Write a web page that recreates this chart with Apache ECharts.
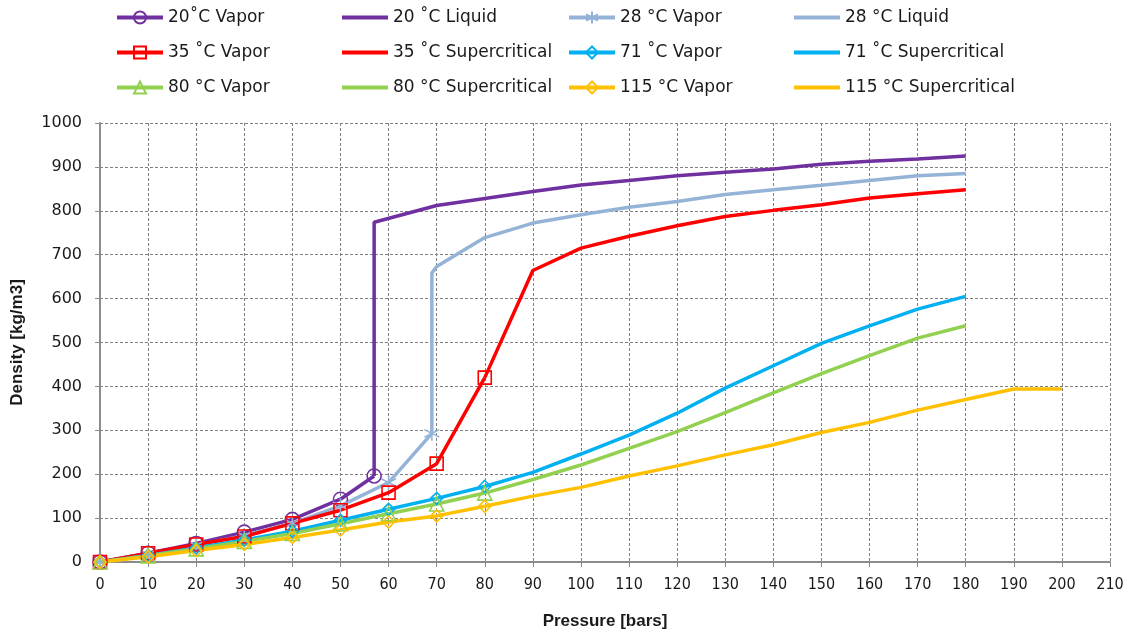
<!DOCTYPE html>
<html>
<head>
<meta charset="utf-8">
<script src="https://cdn.jsdelivr.net/npm/echarts@6/dist/echarts.min.js"></script>
<style>
html,body{margin:0;padding:0;background:#fff;}
#chart{width:1129px;height:629px;}
</style>
</head>
<body>
<div id="chart"></div>
<script>
// ---- Data (pressure in bars, density in kg/m3) ----
const xTicks = [0,10,20,30,40,50,60,70,80,90,100,110,120,130,140,150,160,170,180,190,200,210];
const yTicks = [0,100,200,300,400,500,600,700,800,900,1000];

const pVap20 = [0,10,20,30,40,50,57];
const dVap20 = [0,20,42,68,97,143,196];
const pLiq20 = [57,57,70,80,90,100,110,120,130,140,150,160,170,180];
const dLiq20 = [196,774,812,828,844,859,869,880,888,895,906,913,918,925];

const pVap28 = [0,10,20,30,40,50,60,69];
const dVap28 = [0,18,38,60,88,128,181,293];
const pLiq28 = [69,69,70,80,90,100,110,120,130,140,150,160,170,180];
const dLiq28 = [293,658,673,739,772,791,808,821,837,848,858,869,880,885];

const pVap35 = [0,10,20,30,40,50,60,70,80];
const dVap35 = [0,20,40,58,88,118,158,224,420];
const pSc35 = [80,90,100,110,120,130,140,150,160,170,180];
const dSc35 = [420,664,715,742,766,787,801,814,829,839,848];

const pVap71 = [0,10,20,30,40,50,60,70,80];
const dVap71 = [0,15,32,50,70,95,120,145,172];
const pSc71 = [80,90,100,110,120,130,140,150,160,170,180];
const dSc71 = [172,204,246,289,339,396,447,498,538,576,605];

const pVap80 = [0,10,20,30,40,50,60,70,80];
const dVap80 = [0,14,30,47,65,87,110,132,157];
const pSc80 = [80,90,100,110,120,130,140,150,160,170,180];
const dSc80 = [157,188,221,259,297,340,385,429,470,510,538];

const pVap115 = [0,10,20,30,40,50,60,70,80];
const dVap115 = [0,12,26,40,56,73,91,105,127];
const pSc115 = [80,90,100,110,120,130,140,150,160,170,180,190,200];
const dSc115 = [127,150,170,196,219,244,267,295,318,346,370,394,394];

const names = {
  v20:'20˚C Vapor', l20:'20 ˚C Liquid',
  v28:'28 °C Vapor', l28:'28 °C Liquid',
  v35:'35 ˚C Vapor', s35:'35 ˚C Supercritical',
  v71:'71 ˚C Vapor', s71:'71 ˚C Supercritical',
  v80:'80 °C Vapor', s80:'80 °C Supercritical',
  v115:'115 °C Vapor', s115:'115 °C Supercritical'
};

const C = {p:'#7030A0', lb:'#95B3D7', r:'#FF0000', c:'#00B0F0', g:'#92D050', o:'#FFC000'};
const starPath = 'path://M5,0 L5,10 M0.7,2.5 L9.3,7.5 M0.7,7.5 L9.3,2.5';

function zip(a,b){ return a.map((x,i)=>[x,b[i]]); }
function mk(name, px, dy, color, symbol, size){
  const hasSym = !!symbol;
  return {
    name, type:'line', data: zip(px,dy),
    lineStyle:{color, width:3.5},
    itemStyle:{
      color: (symbol === starPath) ? color : 'rgba(255,255,255,0)',
      borderColor:color, borderWidth:1.6
    },
    symbol: hasSym ? symbol : 'none',
    symbolSize: size || 0,
    showSymbol: hasSym,
    animation:false
  };
}

const series = [
  mk(names.v20, pVap20, dVap20, C.p, 'circle', 14),
  mk(names.l20, pLiq20, dLiq20, C.p),
  mk(names.v28, pVap28, dVap28, C.lb, starPath, 15),
  mk(names.l28, pLiq28, dLiq28, C.lb),
  mk(names.v35, pVap35, dVap35, C.r, 'rect', 13),
  mk(names.s35, pSc35, dSc35, C.r),
  mk(names.v71, pVap71, dVap71, C.c, 'diamond', 12),
  mk(names.s71, pSc71, dSc71, C.c),
  mk(names.v80, pVap80, dVap80, C.g, 'triangle', 14),
  mk(names.s80, pSc80, dSc80, C.g),
  mk(names.v115, pVap115, dVap115, C.o, 'diamond', 12),
  mk(names.s115, pSc115, dSc115, C.o)
];

const legendText = {fontFamily:'DejaVu Sans', fontSize:17, color:'#1a1a1a'};
const plainLine = n => ({name:n, itemStyle:{opacity:0}});
const cols = [
  {left:115, data:[names.v20, names.v35, names.v80]},
  {left:340, data:[plainLine(names.l20), plainLine(names.s35), plainLine(names.s80)]},
  {left:567, data:[names.v28, names.v71, names.v115]},
  {left:792, data:[plainLine(names.l28), plainLine(names.s71), plainLine(names.s115)]}
];
const legends = cols.map(c=>({
  orient:'vertical', left:c.left, top:9, itemWidth:46, itemHeight:15, itemGap:18,
  textStyle:legendText, data:c.data, selectedMode:false, padding:0,
  lineStyle:{width:4}
}));

const option = {
  animation:false,
  backgroundColor:'#fff',
  legend: legends,
  grid:{left:100, right:19, top:123, bottom:67, containLabel:false, outerBoundsMode:'none'},
  xAxis:{
    type:'value', min:0, max:210, interval:10,
    name:'Pressure [bars]', nameLocation:'middle', nameGap:51,
    nameTextStyle:{fontFamily:'Liberation Sans', fontWeight:'bold', fontSize:17, color:'#1a1a1a'},
    axisLine:{show:true, onZero:false, lineStyle:{color:'#8c8c8c', width:2}},
    axisTick:{show:true, inside:false, length:5, lineStyle:{color:'#8c8c8c', width:1}},
    axisLabel:{fontFamily:'Liberation Sans Narrow, DejaVu Sans Condensed, sans-serif', fontSize:16, color:'#1a1a1a', margin:15},
    splitLine:{show:true, lineStyle:{color:'#808080', type:[3,2], width:1}}
  },
  yAxis:{
    type:'value', min:0, max:1000, interval:100,
    name:'Density [kg/m3]', nameLocation:'middle', nameGap:74, nameRotate:90,
    nameTextStyle:{fontFamily:'Liberation Sans', fontWeight:'bold', fontSize:17, color:'#1a1a1a'},
    axisLine:{show:true, onZero:false, lineStyle:{color:'#8c8c8c', width:2}},
    axisTick:{show:true, inside:false, length:5, lineStyle:{color:'#8c8c8c', width:1}},
    axisLabel:{fontFamily:'DejaVu Sans', fontSize:16, color:'#1a1a1a', margin:18, formatter: v => String(v)},
    splitLine:{show:true, lineStyle:{color:'#808080', type:[3,2], width:1}}
  },
  series
};

const chart = echarts.init(document.getElementById('chart'), null, {renderer:'canvas'});
chart.setOption(option);
</script>
</body>
</html>
